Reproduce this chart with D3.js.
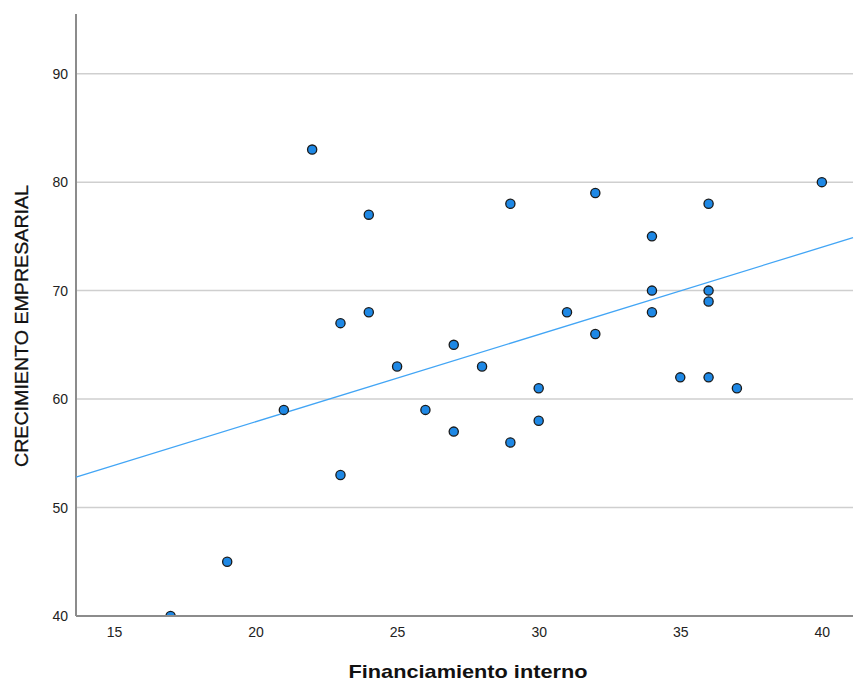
<!DOCTYPE html>
<html><head><meta charset="utf-8">
<script src="https://cdn.jsdelivr.net/npm/d3@7"></script>
<style>body{margin:0;background:#fff}svg{display:block}</style>
</head><body>
<svg id="c" width="854" height="681"></svg>
<script>
const xValues = [17,19,21,22,23,23,24,24,25,26,27,27,28,29,29,30,30,31,32,32,34,34,34,35,36,36,36,36,37,40];
const yValues = [40,45,59,83,67,53,77,68,63,59,65,57,63,78,56,61,58,68,79,66,75,70,68,62,78,70,69,62,61,80];
const xTicks = [15,20,25,30,35,40];
const yTicks = [40,50,60,70,80,90];
const xTitle = "Financiamiento interno";
const yTitle = "CRECIMIENTO EMPRESARIAL";

const svg = d3.select("#c");
const L = 76, R = 853, T = 14, B = 616;
const x = d3.scaleLinear().domain([13.66, 41.1]).range([L, R]);
const y = d3.scaleLinear().domain([40, 95.5]).range([B, T]);

// gridlines
svg.append("g").selectAll("line").data(yTicks.filter(d => d > 40)).join("line")
  .attr("x1", L).attr("x2", R).attr("y1", d => y(d)).attr("y2", d => y(d))
  .attr("stroke", "#cfcfcf").attr("stroke-width", 1.5);

// axes
const yAxis = svg.append("g").attr("transform", `translate(${L},0)`)
  .call(d3.axisLeft(y).tickValues(yTicks).tickSize(0).tickPadding(8));
yAxis.select(".domain").attr("stroke", "#8c8c8c").attr("stroke-width", 2).attr("d", `M0,${T}V${B}`);
const xAxis = svg.append("g").attr("transform", `translate(0,${B})`)
  .call(d3.axisBottom(x).tickValues(xTicks).tickSize(0).tickPadding(11));
xAxis.select(".domain").attr("stroke", "#8c8c8c").attr("stroke-width", 2).attr("d", `M${L},0H${R}`);
svg.selectAll(".tick text").attr("font-family", "Liberation Sans, Arial, sans-serif")
  .attr("font-size", 14).attr("fill", "#222");

// regression line
const mx = d3.mean(xValues), my = d3.mean(yValues);
const sxy = d3.sum(xValues, (v, i) => (v - mx) * (yValues[i] - my));
const sxx = d3.sum(xValues, v => (v - mx) * (v - mx));
const b = sxy / sxx, a = my - b * mx;
const [x0, x1] = x.domain();
svg.append("line")
  .attr("x1", x(x0)).attr("y1", y(a + b * x0))
  .attr("x2", x(x1)).attr("y2", y(a + b * x1))
  .attr("stroke", "#42a5f5").attr("stroke-width", 1.3);

// clip & points
svg.append("clipPath").attr("id", "clip").append("rect")
  .attr("x", L).attr("y", T).attr("width", R - L).attr("height", B - T);
svg.append("g").attr("clip-path", "url(#clip)")
  .selectAll("circle").data(xValues.map((v, i) => [v, yValues[i]])).join("circle")
  .attr("cx", d => x(d[0])).attr("cy", d => y(d[1])).attr("r", 4.6)
  .attr("fill", "#1e88e5").attr("stroke", "#1a1a1a").attr("stroke-width", 1.3);

// redraw x axis line over clipped point
svg.append("line").attr("x1", L).attr("x2", R).attr("y1", B).attr("y2", B)
  .attr("stroke", "#8c8c8c").attr("stroke-width", 2);

// titles
svg.append("text").attr("x", 468).attr("y", 678)
  .attr("text-anchor", "middle").attr("font-family", "Liberation Sans, Arial, sans-serif")
  .attr("font-weight", "bold").attr("font-size", 19).attr("fill", "#111")
  .attr("textLength", 239).attr("lengthAdjust", "spacingAndGlyphs").text(xTitle);
svg.append("text").attr("transform", "translate(28,326) rotate(-90)")
  .attr("text-anchor", "middle").attr("font-family", "Liberation Sans, Arial, sans-serif")
  .attr("font-size", 19).attr("fill", "#111").attr("stroke", "#111").attr("stroke-width", 0.3)
  .attr("textLength", 282).attr("lengthAdjust", "spacingAndGlyphs").text(yTitle);
</script>
</body></html>
